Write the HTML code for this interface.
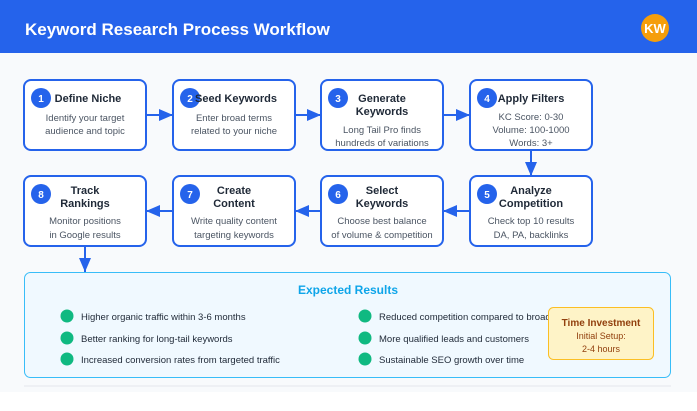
<!DOCTYPE html>
<html><head><meta charset="utf-8"><style>
html,body{margin:0;padding:0;background:#f8fafc;}
svg{display:block;font-family:"Liberation Sans",Arial,sans-serif;}
.t{font-weight:bold;font-size:11px;fill:#1f2937;text-anchor:middle}
.d{font-size:9.5px;fill:#4b5563;text-anchor:middle}
.n{font-weight:bold;font-size:10px;fill:#fff;text-anchor:middle}
.b{font-size:9.5px;fill:#1f2937}
</style></head><body>
<svg width="697" height="411" viewBox="0 0 697 411">
<defs><marker id="a" markerWidth="8" markerHeight="8" refX="7" refY="4" orient="auto" markerUnits="userSpaceOnUse"><path d="M0,0 L8,4 L0,8z" fill="#2563eb"/></marker>
<marker id="ah" viewBox="0 0 10 10" markerWidth="14" markerHeight="12" refX="10" refY="5" orient="auto" markerUnits="userSpaceOnUse" preserveAspectRatio="none"><path d="M0,0 L10,5 L0,10z" fill="#2563eb"/></marker></defs>
<rect width="697" height="411" fill="#f8fafc"/>
<rect x="0" y="392" width="697" height="19" fill="#fff"/>
<rect x="0" y="0" width="697" height="53" fill="#2563eb"/>
<text x="25" y="35" font-size="17" font-weight="bold" fill="#fff">Keyword Research Process Workflow</text>
<circle cx="655" cy="28" r="14" fill="#f59e0b"/>
<text x="655" y="33" font-size="13" font-weight="bold" fill="#fff" text-anchor="middle">KW</text>

<g fill="#fff" stroke="#2563eb" stroke-width="2">
<rect x="24" y="80" width="122" height="70" rx="7"/>
<rect x="173" y="80" width="122" height="70" rx="7"/>
<rect x="321" y="80" width="122" height="70" rx="7"/>
<rect x="470" y="80" width="122" height="70" rx="7"/>
<rect x="24" y="176" width="122" height="70" rx="7"/>
<rect x="173" y="176" width="122" height="70" rx="7"/>
<rect x="321" y="176" width="122" height="70" rx="7"/>
<rect x="470" y="176" width="122" height="70" rx="7"/>
</g>
<g stroke="#2563eb" stroke-width="2" fill="none">
<line x1="146" y1="115" x2="173" y2="115" marker-end="url(#ah)"/>
<line x1="295" y1="115" x2="321" y2="115" marker-end="url(#ah)"/>
<line x1="443" y1="115" x2="470" y2="115" marker-end="url(#ah)"/>
<line x1="531" y1="150" x2="531" y2="176" marker-end="url(#ah)"/>
<line x1="470" y1="211" x2="443" y2="211" marker-end="url(#ah)"/>
<line x1="321" y1="211" x2="295" y2="211" marker-end="url(#ah)"/>
<line x1="173" y1="211" x2="146" y2="211" marker-end="url(#ah)"/>
<line x1="85" y1="246" x2="85" y2="272" marker-end="url(#ah)"/>
</g>
<g fill="#2563eb">
<circle cx="41" cy="98" r="10"/><circle cx="190" cy="98" r="10"/><circle cx="338" cy="98" r="10"/><circle cx="487" cy="98" r="10"/>
<circle cx="41" cy="194" r="10"/><circle cx="190" cy="194" r="10"/><circle cx="338" cy="194" r="10"/><circle cx="487" cy="194" r="10"/>
</g>
<text class="n" x="41" y="102">1</text><text class="n" x="190" y="102">2</text><text class="n" x="338" y="102">3</text><text class="n" x="487" y="102">4</text>
<text class="n" x="41" y="198">8</text><text class="n" x="190" y="198">7</text><text class="n" x="338" y="198">6</text><text class="n" x="487" y="198">5</text>

<text class="t" x="88" y="102">Define Niche</text>
<text class="d" x="85" y="121">Identify your target</text><text class="d" x="85" y="134">audience and topic</text>
<text class="t" x="236" y="102">Seed Keywords</text>
<text class="d" x="234" y="121">Enter broad terms</text><text class="d" x="234" y="134">related to your niche</text>
<text class="t" x="382" y="102">Generate</text><text class="t" x="382" y="115">Keywords</text>
<text class="d" x="382" y="133">Long Tail Pro finds</text><text class="d" x="382" y="146">hundreds of variations</text>
<text class="t" x="531" y="102">Apply Filters</text>
<text class="d" x="531" y="120">KC Score: 0-30</text><text class="d" x="531" y="133">Volume: 100-1000</text><text class="d" x="531" y="146">Words: 3+</text>

<text class="t" x="85" y="194">Track</text><text class="t" x="85" y="207">Rankings</text>
<text class="d" x="85" y="224">Monitor positions</text><text class="d" x="85" y="238">in Google results</text>
<text class="t" x="234" y="194">Create</text><text class="t" x="234" y="207">Content</text>
<text class="d" x="234" y="224">Write quality content</text><text class="d" x="234" y="238">targeting keywords</text>
<text class="t" x="382" y="194">Select</text><text class="t" x="382" y="207">Keywords</text>
<text class="d" x="382" y="224">Choose best balance</text><text class="d" x="382" y="238">of volume &amp; competition</text>
<text class="t" x="531" y="194">Analyze</text><text class="t" x="531" y="207">Competition</text>
<text class="d" x="531" y="224">Check top 10 results</text><text class="d" x="531" y="238">DA, PA, backlinks</text>

<rect x="24.5" y="272.5" width="646" height="105" rx="6" fill="#f0f9ff" stroke="#38bdf8" stroke-width="1"/>
<text x="348" y="294" font-size="12" font-weight="bold" fill="#0ea5e9" text-anchor="middle">Expected Results</text>
<g fill="#10b981">
<circle cx="67" cy="316" r="6.5"/><circle cx="67" cy="338" r="6.5"/><circle cx="67" cy="359" r="6.5"/>
<circle cx="365" cy="316" r="6.5"/><circle cx="365" cy="338" r="6.5"/><circle cx="365" cy="359" r="6.5"/>
</g>
<text class="b" x="81" y="320">Higher organic traffic within 3-6 months</text>
<text class="b" x="81" y="342">Better ranking for long-tail keywords</text>
<text class="b" x="81" y="363">Increased conversion rates from targeted traffic</text>
<text class="b" x="379" y="320">Reduced competition compared to broad</text>
<text class="b" x="379" y="342">More qualified leads and customers</text>
<text class="b" x="379" y="363">Sustainable SEO growth over time</text>
<rect x="548.5" y="307.5" width="105" height="52" rx="5" fill="#fef3c7" stroke="#fbbf24" stroke-width="1"/>
<text x="601" y="326" font-size="10" font-weight="bold" fill="#92400e" text-anchor="middle">Time Investment</text>
<text x="601" y="339" font-size="9" fill="#92400e" text-anchor="middle">Initial Setup:</text>
<text x="601" y="352" font-size="9" fill="#92400e" text-anchor="middle">2-4 hours</text>
<line x1="24" y1="386" x2="671" y2="386" stroke="#e5e7eb" stroke-width="1"/>
</svg>
</body></html>
